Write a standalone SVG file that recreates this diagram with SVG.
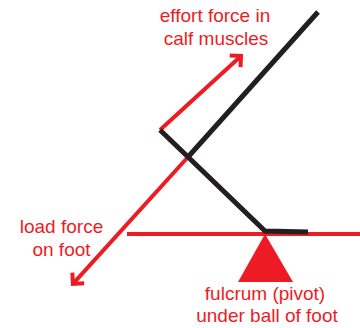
<svg xmlns="http://www.w3.org/2000/svg" width="360" height="328" viewBox="0 0 360 328">
<style>
.red{stroke:#ED1C24;stroke-width:4;fill:none}
.blk{stroke:#231F20;stroke-width:5;fill:none;stroke-linejoin:miter}
.lbl{font-family:"Liberation Sans",Arial,sans-serif;font-size:19px;fill:#ED1C24;text-anchor:middle}
</style>
<defs>
<marker id="ah" viewBox="-12 -12 24 24" refX="0" refY="0" markerWidth="24" markerHeight="24" markerUnits="userSpaceOnUse" orient="auto" overflow="visible">
<path d="M-8,-8 L0,0 L-8,8" fill="none" stroke="#ED1C24" stroke-width="4" stroke-miterlimit="10"/>
</marker>
</defs>
<rect width="360" height="328" fill="#fff"/>
<g id="connectors">
<line class="red" x1="127" y1="234" x2="360" y2="234"/>
<line class="red" x1="160" y1="130" x2="241" y2="55.9" marker-end="url(#ah)"/>
<line class="red" x1="188" y1="157" x2="72.9" y2="283.9" marker-end="url(#ah)"/>
</g>
<g id="leg">
<polyline class="blk" points="318,12 188,157"/>
<polyline class="blk" points="160,130 265,231 308,232"/>
</g>
<g id="fulcrum">
<polygon points="265,234 238,282 293,282" fill="#ED1C24"/>
</g>
<g id="labels">
<text class="lbl" x="215" y="22">effort force in</text>
<text class="lbl" x="216" y="45">calf muscles</text>
<text class="lbl" x="61.5" y="233">load force</text>
<text class="lbl" x="61.5" y="256">on foot</text>
<text class="lbl" x="265" y="300">fulcrum (pivot)</text>
<text class="lbl" x="267" y="322">under ball of foot</text>
</g>
</svg>
